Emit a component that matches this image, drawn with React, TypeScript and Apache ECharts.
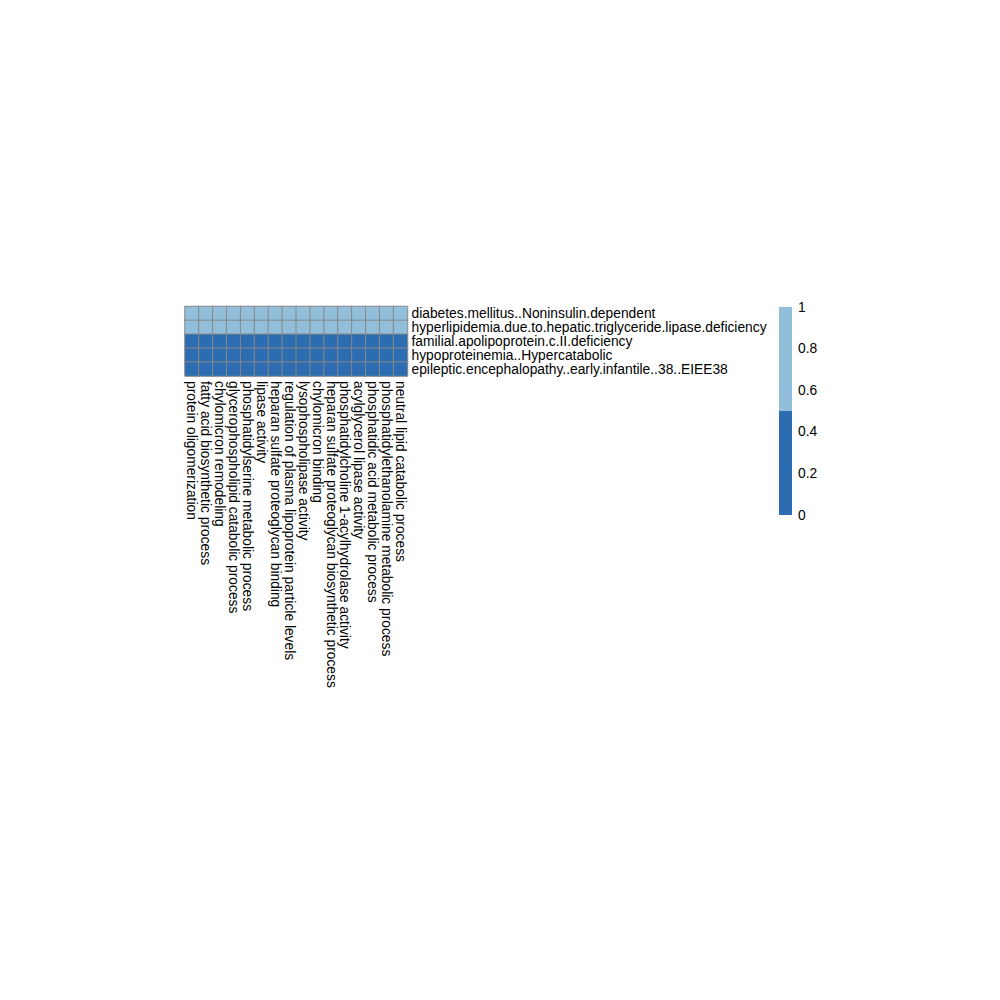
import React, { useEffect, useRef } from "react";
import * as echarts from "echarts";

const colLabels = [
  "protein oligomerization",
  "fatty acid biosynthetic process",
  "chylomicron remodeling",
  "glycerophospholipid catabolic process",
  "phosphatidylserine metabolic process",
  "lipase activity",
  "heparan sulfate proteoglycan binding",
  "regulation of plasma lipoprotein particle levels",
  "lysophospholipase activity",
  "chylomicron binding",
  "heparan sulfate proteoglycan biosynthetic process",
  "phosphatidylcholine 1-acylhydrolase activity",
  "acylglycerol lipase activity",
  "phosphatidic acid metabolic process",
  "phosphatidylethanolamine metabolic process",
  "neutral lipid catabolic process",
];

const rowLabels = [
  "diabetes.mellitus..Noninsulin.dependent",
  "hyperlipidemia.due.to.hepatic.triglyceride.lipase.deficiency",
  "familial.apolipoprotein.c.II.deficiency",
  "hypoproteinemia..Hypercatabolic",
  "epileptic.encephalopathy..early.infantile..38..EIEE38",
];

// value per row (same across all columns)
const rowValues = [1, 1, 0, 0, 0];

const legendBreaks = [0.5, 0.5];

const LIGHT = "#91BFDB";
const DARK = "#2C6DB2";

export default function App() {
  const ref = useRef<HTMLDivElement>(null);
  useEffect(() => {
    document.body.style.margin = "0";
    const chart = echarts.init(ref.current!, null, { renderer: "svg" });
    const data: number[][] = [];
    rowLabels.forEach((_, r) => {
      colLabels.forEach((_, c) => {
        data.push([c, r, rowValues[r]]);
      });
    });
    const font = "Liberation Sans, Arial, Helvetica, sans-serif";
    const fs = 13.8;
    chart.setOption({
      animation: false,
      backgroundColor: "#ffffff",
      textStyle: { fontFamily: font },
      grid: [
        { left: 185, top: 306.5, width: 222.5, height: 69.5 },
        { left: 779, top: 307, width: 13, height: 208 },
      ],
      xAxis: [
        {
          type: "category",
          gridIndex: 0,
          data: colLabels,
          position: "bottom",
          axisLine: { show: false },
          axisTick: { show: false },
          splitLine: { show: false },
          axisLabel: {
            rotate: -90,
            interval: 0,
            margin: 5,
            fontSize: fs,
            color: "#000",
            fontFamily: font,
          },
        },
        {
          type: "category",
          gridIndex: 1,
          data: ["legend"],
          show: false,
        },
      ],
      yAxis: [
        {
          type: "category",
          gridIndex: 0,
          data: rowLabels,
          inverse: true,
          position: "right",
          axisLine: { show: false },
          axisTick: { show: false },
          splitLine: { show: false },
          axisLabel: {
            interval: 0,
            margin: 4,
            fontSize: fs,
            color: "#000",
            align: "left",
            fontFamily: font,
          },
        },
        {
          type: "value",
          gridIndex: 1,
          min: 0,
          max: 1,
          interval: 0.2,
          position: "right",
          axisLine: { show: false },
          axisTick: { show: false },
          splitLine: { show: false },
          axisLabel: {
            margin: 6,
            fontSize: fs,
            color: "#000",
            fontFamily: font,
            formatter: (v: number) => String(Math.round(v * 10) / 10),
          },
        },
      ],
      visualMap: {
        show: false,
        type: "piecewise",
        seriesIndex: 0,
        pieces: [
          { min: -0.01, max: 0.5, color: DARK },
          { min: 0.5001, max: 1.01, color: LIGHT },
        ],
      },
      series: [
        {
          type: "heatmap",
          xAxisIndex: 0,
          yAxisIndex: 0,
          data,
          itemStyle: { borderColor: "#878787", borderWidth: 1 },
          emphasis: { disabled: true },
        },
        {
          type: "bar",
          xAxisIndex: 1,
          yAxisIndex: 1,
          stack: "cb",
          barWidth: "100%",
          data: [legendBreaks[0]],
          itemStyle: { color: DARK },
        },
        {
          type: "bar",
          xAxisIndex: 1,
          yAxisIndex: 1,
          stack: "cb",
          barWidth: "100%",
          data: [legendBreaks[1]],
          itemStyle: { color: LIGHT },
        },
      ],
    });
    return () => chart.dispose();
  }, []);
  return (
    <div
      ref={ref}
      style={{ width: 1000, height: 1000, position: "absolute", left: 0, top: 0 }}
    />
  );
}
